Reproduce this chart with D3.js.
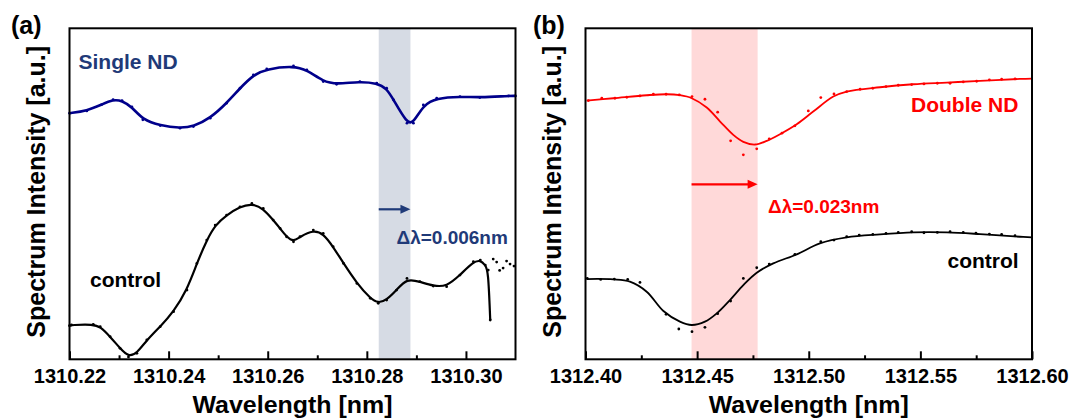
<!DOCTYPE html>
<html>
<head>
<meta charset="utf-8">
<script src="https://cdnjs.cloudflare.com/ajax/libs/d3/7.8.5/d3.min.js"></script>
<style>
  body { margin: 0; background: #fff; }
  text { font-family: "Liberation Sans", Arial, sans-serif; font-weight: bold; }
</style>
</head>
<body>
<div id="chart"></div>
<script>
// panel (a) - single ND vs control
const singleWl = [1310.2200, 1310.2235, 1310.2265, 1310.2288, 1310.2306, 1310.2326, 1310.2348, 1310.2383, 1310.2423, 1310.2450, 1310.2484, 1310.2517, 1310.2544, 1310.2571, 1310.2598, 1310.2652, 1310.2679, 1310.2712, 1310.2739, 1310.2786, 1310.2820, 1310.2840, 1310.2854, 1310.2881, 1310.2894, 1310.2914, 1310.2941, 1310.2988, 1310.3028, 1310.3086, 1310.3100];
const singleVal = [74.8, 75.5, 77.4, 78.9, 78.6, 76.7, 72.8, 71.1, 70.3, 70.8, 73.3, 77.8, 82.3, 86.3, 88.1, 89.0, 87.8, 84.3, 83.5, 84.3, 83.8, 82.3, 78.8, 71.8, 71.8, 77.3, 79.3, 79.8, 79.5, 80.0, 80.0];

const controlAWl = [1310.2200, 1310.2204, 1310.2248, 1310.2262, 1310.2282, 1310.2302, 1310.2319, 1310.2336, 1310.2356, 1310.2383, 1310.2410, 1310.2437, 1310.2457, 1310.2477, 1310.2494, 1310.2517, 1310.2544, 1310.2568, 1310.2591, 1310.2611, 1310.2625, 1310.2638, 1310.2652, 1310.2665, 1310.2692, 1310.2712, 1310.2732, 1310.2753, 1310.2780, 1310.2807, 1310.2823, 1310.2840, 1310.2860, 1310.2881, 1310.2907, 1310.2934, 1310.2961, 1310.2988, 1310.3015, 1310.3029, 1310.3039, 1310.3045, 1310.3049];
const controlAVal = [11.0, 11.2, 11.4, 10.7, 7.7, 4.2, 1.6, 2.7, 6.7, 10.7, 15.2, 21.7, 29.7, 36.7, 41.2, 44.2, 46.7, 47.7, 46.2, 42.7, 40.2, 37.7, 36.2, 37.7, 39.7, 38.7, 34.7, 29.7, 23.7, 19.2, 17.7, 18.7, 21.7, 25.2, 24.2, 22.9, 22.7, 26.2, 30.2, 30.7, 29.2, 27.7, 12.7];
// scattered points beyond the end of the control fit
const controlATailWl = [1310.3055, 1310.3062, 1310.3068, 1310.3075, 1310.3082, 1310.3089, 1310.3097];
const controlATailVal = [31.0, 30.1, 27.6, 28.3, 30.4, 29.5, 28.9];

// panel (b) - double ND vs control (fit lines)
const doubleWl = [1312.4005, 1312.4125, 1312.4274, 1312.4364, 1312.4423, 1312.4476, 1312.4543, 1312.4603, 1312.4662, 1312.4707, 1312.4759, 1312.4812, 1312.4871, 1312.4946, 1312.5020, 1312.5110, 1312.5170, 1312.5319, 1312.5468, 1312.5618, 1312.5767, 1312.5946, 1312.6000];
const doubleVal = [78.6, 79.3, 80.2, 80.5, 80.2, 79.3, 76.5, 72.3, 68.3, 66.2, 65.4, 66.5, 68.5, 71.5, 75.3, 79.8, 81.3, 82.6, 83.5, 84.0, 84.5, 85.1, 85.2];
const controlBWl = [1312.4005, 1312.4125, 1312.4199, 1312.4274, 1312.4349, 1312.4423, 1312.4476, 1312.4535, 1312.4588, 1312.4647, 1312.4707, 1312.4767, 1312.4841, 1312.4946, 1312.5050, 1312.5170, 1312.5319, 1312.5468, 1312.5618, 1312.5767, 1312.5946, 1312.6000];
const controlBVal = [25.0, 24.9, 24.2, 21.2, 15.4, 12.2, 11.2, 12.2, 14.7, 18.7, 23.2, 26.9, 29.7, 32.4, 35.7, 37.5, 38.4, 39.0, 39.0, 38.5, 37.7, 37.5];

// panel (b) measured points
const doubleDotWl = [1312.4013, 1312.4073, 1312.4132, 1312.4185, 1312.4244, 1312.4304, 1312.4361, 1312.4420, 1312.4477, 1312.4535, 1312.4592, 1312.4650, 1312.4707, 1312.4767, 1312.4823, 1312.4880, 1312.4938, 1312.4998, 1312.5054, 1312.5113, 1312.5170, 1312.5230, 1312.5287, 1312.5346, 1312.5401, 1312.5461, 1312.5516, 1312.5576, 1312.5633, 1312.5692, 1312.5752, 1312.5809, 1312.5864, 1312.5924];
const doubleDotVal = [78.6, 79.3, 79.3, 79.6, 80.0, 80.5, 80.5, 80.3, 79.8, 79.0, 75.1, 66.5, 62.3, 64.1, 67.1, 68.8, 71.0, 75.5, 79.5, 80.6, 81.3, 82.0, 82.3, 82.8, 83.2, 83.4, 83.6, 83.8, 83.8, 84.2, 84.4, 84.8, 85.0, 85.1];
const controlBDotWl = [1312.4008, 1312.4068, 1312.4129, 1312.4189, 1312.4244, 1312.4361, 1312.4418, 1312.4477, 1312.4535, 1312.4592, 1312.4650, 1312.4707, 1312.4767, 1312.4823, 1312.4938, 1312.5054, 1312.5113, 1312.5170, 1312.5226, 1312.5287, 1312.5346, 1312.5401, 1312.5461, 1312.5516, 1312.5576, 1312.5633, 1312.5692, 1312.5749, 1312.5809, 1312.5864, 1312.5924];
const controlBDotVal = [25.2, 24.9, 25.0, 24.9, 24.0, 14.4, 10.0, 9.2, 10.5, 14.6, 18.4, 25.2, 28.4, 29.5, 32.4, 36.2, 36.7, 37.7, 38.2, 38.4, 38.7, 39.0, 39.2, 38.9, 39.0, 39.2, 39.0, 38.8, 38.5, 38.4, 38.0];

// x ranges, ticks and shaded shift bands
const xDomainA = [1310.22, 1310.31];
const majorTicksA = [1310.22, 1310.24, 1310.26, 1310.28, 1310.30];
const minorTicksA = [1310.23, 1310.25, 1310.27, 1310.29];
const bandA = [1310.2824, 1310.2888];
const xDomainB = [1312.40, 1312.60];
const majorTicksB = [1312.40, 1312.45, 1312.50, 1312.55, 1312.60];
const minorTicksB = [1312.425, 1312.475, 1312.525, 1312.575];
const bandB = [1312.4475, 1312.4771];
const yDomain = [0.9, 100.3];

const w = 1071;
const h = 418;
const plotTop = 28.3;
const plotBottom = 359.3;

const zip = (xs, ys) => xs.map((d, i) => ({ x: d, y: ys[i] }));

const svg = d3.select('#chart')
    .append('svg')
    .attr('width', w)
    .attr('height', h);

const yScale = d3.scaleLinear().domain(yDomain).range([plotBottom, plotTop]);

const drawPanel = (opts) => {
    const xScale = d3.scaleLinear().domain(opts.domain).range([opts.left, opts.right]);
    const g = svg.append('g');

    // shaded band
    g.append('rect')
        .attr('x', xScale(opts.band[0]))
        .attr('y', plotTop)
        .attr('width', xScale(opts.band[1]) - xScale(opts.band[0]))
        .attr('height', plotBottom - plotTop)
        .attr('fill', opts.bandColor);

    const line = d3.line()
        .x(d => xScale(d.x))
        .y(d => yScale(d.y))
        .curve(opts.curve);

    opts.series.forEach(s => {
        g.append('g')
            .selectAll('circle')
            .data(s.dots)
            .enter()
            .append('circle')
            .attr('cx', d => xScale(d.x))
            .attr('cy', d => yScale(d.y))
            .attr('r', s.r)
            .attr('fill', s.color);
        g.append('path')
            .datum(s.fit)
            .attr('d', line)
            .attr('fill', 'none')
            .attr('stroke', s.color)
            .attr('stroke-width', s.width)
            .attr('stroke-linejoin', 'round');
    });

    // bottom axis: major ticks with labels, minor ticks without, both pointing inward
    g.append('g')
        .attr('transform', `translate(0, ${plotBottom})`)
        .call(d3.axisBottom(xScale).tickValues(opts.major).tickSizeInner(-8).tickSizeOuter(0)
            .tickPadding(10).tickFormat(d3.format('.2f')))
        .call(a => a.select('.domain').remove())
        .call(a => a.selectAll('line').attr('stroke', '#000').attr('stroke-width', 2))
        .call(a => a.selectAll('text').attr('font-size', 20).attr('font-family', null).attr('fill', '#000'));
    g.append('g')
        .attr('transform', `translate(0, ${plotBottom})`)
        .call(d3.axisBottom(xScale).tickValues(opts.minor).tickSizeInner(-4).tickSizeOuter(0).tickFormat(''))
        .call(a => a.select('.domain').remove())
        .call(a => a.selectAll('line').attr('stroke', '#000').attr('stroke-width', 2));

    // frame
    g.append('rect')
        .attr('x', opts.left)
        .attr('y', plotTop)
        .attr('width', opts.right - opts.left)
        .attr('height', plotBottom - plotTop)
        .attr('fill', 'none')
        .attr('stroke', '#000')
        .attr('stroke-width', 2);

    // arrow showing the shift
    const ax0 = xScale(opts.band[0]);
    const ax1 = xScale(opts.band[1]);
    g.append('line')
        .attr('x1', ax0).attr('x2', ax1 - 8)
        .attr('y1', opts.arrowY).attr('y2', opts.arrowY)
        .attr('stroke', opts.arrowColor).attr('stroke-width', 2.2);
    g.append('path')
        .attr('d', `M${ax1},${opts.arrowY} L${ax1 - 10},${opts.arrowY - 4.5} L${ax1 - 10},${opts.arrowY + 4.5} Z`)
        .attr('fill', opts.arrowColor);

    // axis titles
    g.append('text')
        .attr('x', (opts.left + opts.right) / 2)
        .attr('y', 413)
        .attr('text-anchor', 'middle')
        .attr('font-size', 24)
        .attr('textLength', 200)
        .attr('lengthAdjust', 'spacingAndGlyphs')
        .text('Wavelength [nm]');
    g.append('text')
        .attr('transform', `translate(${opts.left - 25}, ${(plotTop + plotBottom) / 2 - 2}) rotate(-90)`)
        .attr('text-anchor', 'middle')
        .attr('font-size', 25)
        .text('Spectrum Intensity [a.u.]');

    opts.labels.forEach(l => {
        g.append('text')
            .attr('x', l.x)
            .attr('y', l.y)
            .attr('font-size', l.size)
            .attr('fill', l.color)
            .text(l.text);
    });
};

drawPanel({
    domain: xDomainA, left: 69.5, right: 515.5,
    major: majorTicksA, minor: minorTicksA,
    band: bandA, bandColor: '#d6dbe4',
    arrowY: 209.3, arrowColor: '#1f3a78',
    curve: d3.curveBasis,
    series: [
        { fit: zip(singleWl, singleVal), dots: zip(singleWl, singleVal), color: '#00008b', width: 2.6, r: 1.4 },
        { fit: zip(controlAWl, controlAVal), dots: zip(controlAWl, controlAVal).concat(zip(controlATailWl, controlATailVal)), color: '#000', width: 2.2, r: 1.4 }
    ],
    labels: [
        { text: '(a)', x: 11, y: 33.5, size: 25, color: '#000' },
        { text: 'Single ND', x: 78.5, y: 69, size: 21, color: '#1f3a78' },
        { text: '\u0394\u03bb=0.006nm', x: 396.5, y: 243.7, size: 19, color: '#1f3a78' },
        { text: 'control', x: 90, y: 286.7, size: 21, color: '#000' }
    ]
});

drawPanel({
    domain: xDomainB, left: 585.5, right: 1032,
    major: majorTicksB, minor: minorTicksB,
    band: bandB, bandColor: '#ffd9d9',
    arrowY: 184.3, arrowColor: '#ff0000',
    curve: d3.curveCatmullRom.alpha(0.5),
    series: [
        { fit: zip(doubleWl, doubleVal), dots: zip(doubleDotWl, doubleDotVal), color: '#ff0000', width: 1.8, r: 1.4 },
        { fit: zip(controlBWl, controlBVal), dots: zip(controlBDotWl, controlBDotVal), color: '#000', width: 1.8, r: 1.4 }
    ],
    labels: [
        { text: '(b)', x: 533, y: 33.5, size: 25, color: '#000' },
        { text: 'Double ND', x: 911, y: 111.7, size: 21, color: '#ff0000' },
        { text: '\u0394\u03bb=0.023nm', x: 768, y: 212.7, size: 19, color: '#ff0000' },
        { text: 'control', x: 947.5, y: 268.3, size: 21, color: '#000' }
    ]
});
</script>
</body>
</html>
